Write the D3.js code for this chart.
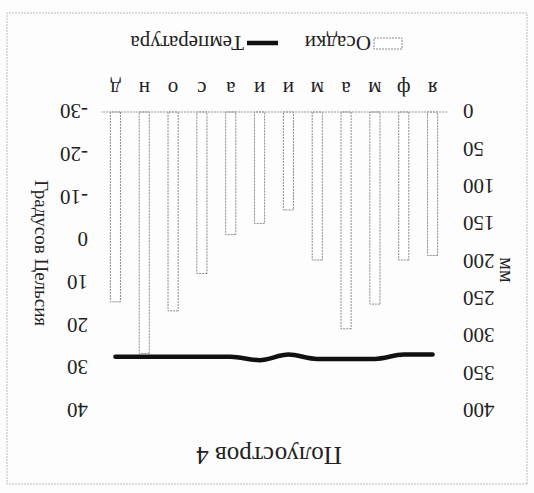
<!DOCTYPE html>
<html><head><meta charset="utf-8">
<script src="https://cdn.jsdelivr.net/npm/d3@7"></script>
<style>
html,body{margin:0;padding:0;background:#fff;}
svg text{font-family:"Liberation Serif","Times New Roman",serif;fill:#222;}
</style></head>
<body>
<svg id="chart" width="534" height="493"></svg>
<script>
const months = ["я","ф","м","а","м","и","и","а","с","о","н","д"];
const precipitation = [192, 198, 257, 290, 198, 131, 149, 164, 216, 266, 323, 254];
const temperature = [26.8, 26.8, 27.8, 27.8, 27.8, 26.8, 28.1, 27.3, 27.3, 27.3, 27.3, 27.3];
const mmTicks = [0, 50, 100, 150, 200, 250, 300, 350, 400];
const tempTicks = [-30, -20, -10, 0, 10, 20, 30, 40];
const title = "Полуостров 4";
const leftTitle = "мм";
const rightTitle = "Градусов Цельсия";
const legendBars = "Осадки";
const legendLine = "Температура";

const W = 534, H = 493;
const FS = 21;
const svg = d3.select("#chart");
svg.append("rect").attr("width", W).attr("height", H).attr("fill", "#fdfdfd");
// whole chart is photographed upside down
const root = svg.append("g").attr("transform", `rotate(180, ${W/2}, ${H/2})`);

root.append("rect").attr("x", 7).attr("y", 9).attr("width", 520).attr("height", 471)
  .attr("fill", "none").attr("stroke", "#bbb").attr("stroke-width", 1).attr("stroke-dasharray", "2,1");

const plot = {left: 87, right: 433, top: 82, bottom: 381};
const x = d3.scaleBand().domain(d3.range(12)).range([plot.left, plot.right])
  .paddingInner(0.65).paddingOuter(0.325);
const yMM = d3.scaleLinear().domain([0, 400]).range([plot.bottom, plot.top]);
const yT = d3.scaleLinear().domain([-30, 40]).range([plot.bottom, plot.top]);

// title
root.append("text").attr("x", 265).attr("y", 46).attr("text-anchor", "middle")
  .attr("font-size", 25).text(title);

// left axis (mm)
const axL = d3.axisLeft(yMM).tickValues(mmTicks).tickFormat(d => String(d)).tickSize(0).tickPadding(16);
const gL = root.append("g").attr("transform", `translate(${plot.left},0)`).call(axL);
gL.select(".domain").remove();
gL.selectAll("text").attr("font-size", FS).attr("dy", "0.35em").attr("font-family", "Liberation Serif");

// right axis (temperature)
const axR = d3.axisRight(yT).tickValues(tempTicks).tickFormat(d => String(d)).tickSize(0).tickPadding(13);
const gR = root.append("g").attr("transform", `translate(${plot.right},0)`).call(axR);
gR.select(".domain").remove();
gR.selectAll("text").attr("font-size", FS).attr("dy", "0.35em").attr("font-family", "Liberation Serif");

// axis titles
root.append("text").attr("transform", `translate(27,223) rotate(-90)`)
  .attr("text-anchor", "middle").attr("dy", "0.35em").attr("font-size", 20).text(leftTitle);
root.append("text").attr("transform", `translate(492,240) rotate(-90)`)
  .attr("text-anchor", "middle").attr("dy", "0.35em").attr("font-size", 19).text(rightTitle);

// bars
root.append("g").selectAll("rect").data(precipitation).join("rect")
  .attr("x", (d, i) => x(i)).attr("width", x.bandwidth())
  .attr("y", d => yMM(d)).attr("height", d => yMM(0) - yMM(d))
  .attr("fill", "#fff").attr("stroke", "#8a8a8a").attr("stroke-width", 1)
  .attr("stroke-dasharray", "2,1");

// baseline
root.append("line").attr("x1", plot.left).attr("x2", plot.right)
  .attr("y1", yMM(0)).attr("y2", yMM(0))
  .attr("stroke", "#999").attr("stroke-width", 1).attr("stroke-dasharray", "2,1");

// month labels
const axB = d3.axisBottom(x).tickFormat(i => months[i]).tickSize(0).tickPadding(15);
const gB = root.append("g").attr("transform", `translate(0,${plot.bottom})`).call(axB);
gB.select(".domain").remove();
gB.selectAll("text").attr("font-size", FS).attr("font-family", "Liberation Serif");

// temperature line
const line = d3.line().x((d, i) => x(i) + x.bandwidth() / 2).y(d => yT(d)).curve(d3.curveMonotoneX);
root.append("path").datum(temperature).attr("d", line)
  .attr("fill", "none").attr("stroke", "#111").attr("stroke-width", 4.5)
  .attr("stroke-linecap", "round").attr("stroke-linejoin", "round");

// legend
const lg = root.append("g").attr("transform", "translate(0,450)");
lg.append("rect").attr("x", 132).attr("y", -6).attr("width", 28).attr("height", 11)
  .attr("fill", "#fff").attr("stroke", "#8a8a8a").attr("stroke-dasharray", "2,1");
lg.append("text").attr("x", 163).attr("y", 0).attr("dy", "0.35em").attr("font-size", FS).text(legendBars);
lg.append("line").attr("x1", 256).attr("x2", 287).attr("y1", 0).attr("y2", 0)
  .attr("stroke", "#111").attr("stroke-width", 4.5);
lg.append("text").attr("x", 290).attr("y", 0).attr("dy", "0.35em").attr("font-size", FS).text(legendLine);
</script>
</body></html>
